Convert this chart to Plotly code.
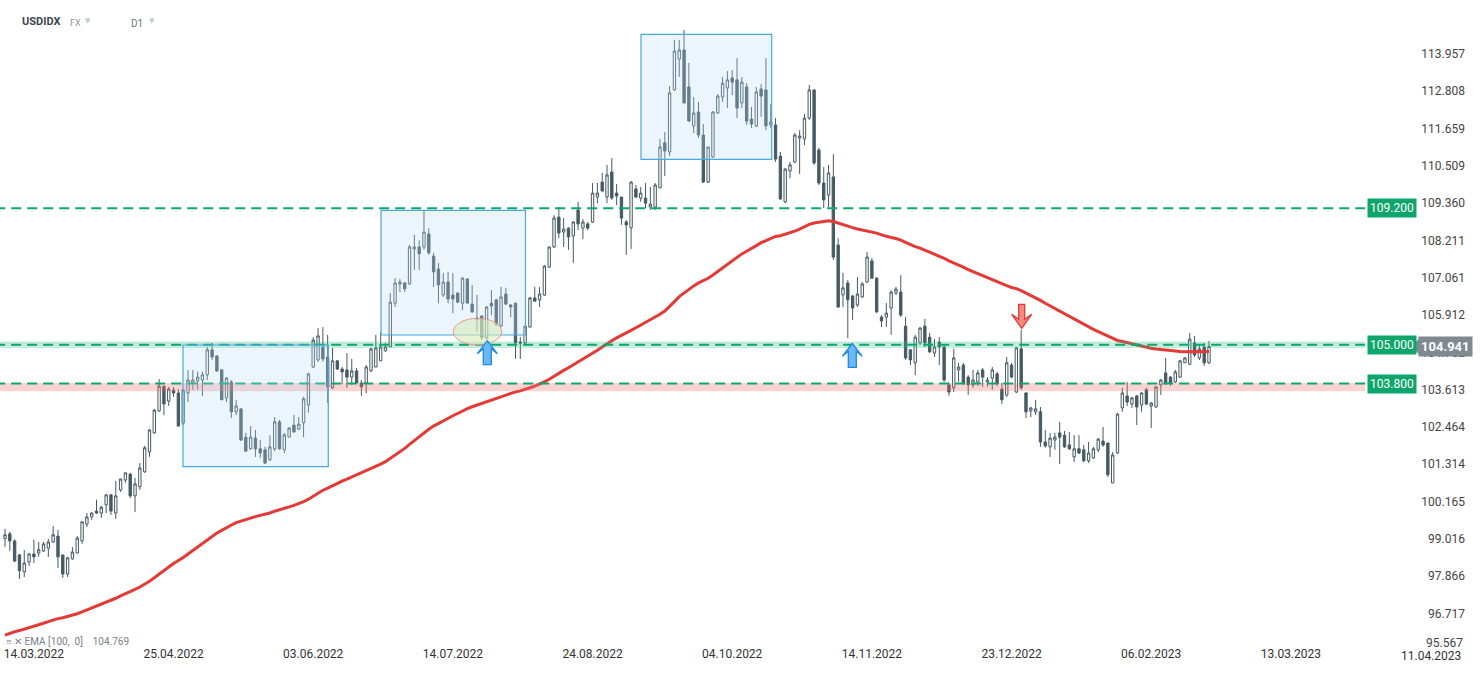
import plotly.graph_objects as go

# ---------------- data ----------------
open_ = [99.02, 99.17, 98.95, 98.52, 98.00, 98.30, 98.55, 98.58, 98.64, 98.73,
         98.92, 99.10, 98.52, 97.93, 98.40, 98.58, 98.95, 99.47, 99.69, 99.87,
         99.81, 100.06, 100.37, 99.81, 100.52, 100.83, 101.01, 100.34, 100.62, 101.08,
         101.69, 102.28, 102.96, 103.72, 103.26, 103.60, 103.51, 102.58, 103.51, 103.82,
         103.88, 103.91, 104.07, 104.84, 104.65, 104.22, 103.36, 103.85, 102.93, 103.02,
         102.15, 101.79, 102.12, 101.79, 101.76, 101.45, 101.79, 102.62, 101.76, 102.15,
         102.52, 102.40, 102.59, 103.14, 104.31, 104.53, 104.93, 104.62, 103.67, 104.50,
         104.25, 104.22, 104.00, 104.19, 103.82, 103.82, 104.19, 104.31, 104.50, 104.81,
         104.93, 106.28, 106.87, 106.90, 106.87, 107.95, 108.01, 108.01, 108.41, 107.73,
         107.33, 106.53, 106.93, 106.53, 106.59, 106.28, 107.02, 106.25, 105.82, 105.88,
         105.20, 106.28, 106.38, 105.57, 106.56, 106.22, 106.28, 105.08, 105.05, 105.54,
         106.44, 106.38, 106.53, 107.39, 108.01, 108.93, 108.47, 108.59, 108.35, 109.15,
         108.59, 108.72, 108.78, 109.55, 110.01, 109.55, 110.32, 109.67, 109.55, 108.78,
         108.60, 109.80, 109.52, 109.52, 109.24, 109.24, 109.83, 111.22, 110.94, 112.85,
         113.80, 114.08, 112.94, 111.74, 112.17, 111.46, 110.01, 110.78, 112.14, 112.63,
         112.91, 113.22, 113.16, 112.45, 112.94, 111.95, 111.74, 112.88, 112.85, 111.77,
         111.77, 110.81, 109.40, 110.35, 110.63, 111.37, 111.34, 111.98, 112.85, 111.00,
         109.98, 109.61, 110.17, 108.07, 106.53, 106.90, 106.50, 106.22, 106.47, 106.93,
         107.58, 107.05, 105.85, 105.85, 106.13, 106.59, 106.62, 105.57, 104.84, 104.44,
         105.05, 105.57, 105.23, 104.74, 105.08, 104.93, 103.76, 103.67, 104.22, 104.37,
         104.00, 103.76, 103.85, 104.22, 103.85, 103.97, 104.10, 103.63, 103.45, 104.37,
         103.54, 104.87, 103.51, 102.96, 102.93, 102.93, 102.00, 101.85, 102.06, 102.28,
         102.21, 101.91, 101.54, 101.79, 101.76, 101.42, 101.51, 101.76, 102.03, 101.97,
         100.74, 101.66, 103.05, 103.42, 103.17, 103.42, 103.14, 103.61, 103.11, 103.08,
         103.76, 104.13, 104.00, 103.85, 104.00, 104.44, 104.40, 105.05, 104.59, 104.93,
         104.44]
high = [99.32, 99.23, 99.00, 98.55, 98.67, 98.58, 98.99, 98.92, 98.92, 99.01,
        99.41, 99.29, 98.52, 98.46, 98.76, 99.10, 99.54, 99.81, 99.84, 100.22,
        100.03, 100.40, 100.40, 100.80, 100.86, 101.05, 101.05, 100.89, 101.35, 101.88,
        102.40, 103.02, 103.94, 103.72, 103.69, 103.69, 103.63, 103.63, 104.22, 104.22,
        104.17, 104.17, 104.93, 105.05, 104.68, 104.25, 104.00, 103.91, 103.30, 103.05,
        102.28, 102.49, 102.37, 102.06, 101.85, 102.21, 102.77, 102.68, 102.28, 102.46,
        102.83, 102.77, 103.39, 104.13, 105.23, 105.51, 105.54, 105.30, 104.90, 104.53,
        104.31, 104.74, 104.56, 104.28, 103.91, 104.37, 104.90, 105.30, 105.39, 105.05,
        106.59, 107.05, 107.02, 106.93, 108.07, 108.38, 108.22, 109.15, 108.59, 107.83,
        107.52, 107.21, 107.24, 107.21, 106.62, 107.08, 107.05, 106.84, 106.53, 105.91,
        106.19, 106.68, 106.41, 106.78, 106.75, 106.25, 106.28, 105.23, 105.60, 106.47,
        106.78, 106.78, 107.45, 108.01, 108.99, 109.24, 108.90, 108.62, 108.81, 109.40,
        108.87, 108.78, 109.98, 109.98, 110.29, 110.54, 110.75, 109.95, 109.55, 108.84,
        110.04, 109.92, 109.86, 109.98, 109.86, 109.98, 111.34, 111.55, 112.97, 114.39,
        114.39, 114.70, 113.68, 112.63, 112.48, 111.80, 111.09, 112.20, 112.72, 113.25,
        113.43, 113.46, 113.83, 113.25, 113.06, 112.32, 112.94, 113.03, 113.83, 112.41,
        111.98, 110.94, 110.44, 110.63, 111.52, 111.61, 112.11, 113.00, 112.85, 111.06,
        110.47, 110.54, 110.87, 108.28, 107.21, 106.99, 106.53, 107.08, 106.93, 107.86,
        107.67, 107.08, 105.91, 106.28, 106.68, 106.78, 107.14, 105.85, 104.87, 105.30,
        105.54, 105.79, 105.36, 105.17, 105.23, 104.99, 103.82, 104.87, 104.44, 104.44,
        104.06, 104.22, 104.22, 104.28, 104.00, 104.31, 104.16, 103.82, 104.62, 104.44,
        104.93, 105.45, 103.54, 103.08, 103.30, 103.08, 102.37, 102.28, 102.28, 102.62,
        102.34, 102.31, 102.21, 102.21, 101.91, 102.00, 101.85, 102.12, 102.46, 101.97,
        101.69, 102.89, 103.67, 103.85, 103.39, 103.45, 103.54, 103.67, 103.23, 103.70,
        103.94, 104.59, 104.03, 104.22, 104.53, 104.62, 105.36, 105.27, 104.99, 105.05,
        105.11]
low = [98.76, 98.65, 98.30, 97.78, 97.84, 98.18, 98.27, 98.46, 98.61, 98.46,
       98.89, 98.12, 97.81, 97.84, 98.37, 98.58, 98.86, 99.38, 99.60, 99.78,
       99.66, 99.81, 99.75, 99.63, 100.46, 100.74, 100.27, 99.84, 100.52, 101.05,
       101.54, 102.25, 102.93, 102.83, 103.11, 103.39, 102.49, 102.52, 103.23, 103.61,
       103.61, 103.42, 103.91, 104.53, 104.16, 103.30, 103.23, 102.74, 102.83, 102.03,
       101.69, 101.76, 101.54, 101.51, 101.32, 101.42, 101.72, 101.76, 101.66, 102.15,
       102.28, 102.37, 102.15, 102.90, 104.28, 104.47, 104.47, 103.20, 103.63, 104.22,
       103.79, 103.67, 103.76, 103.82, 103.42, 103.51, 104.16, 104.31, 104.50, 104.78,
       104.93, 106.16, 106.62, 106.62, 106.84, 107.30, 107.30, 107.92, 107.77, 106.78,
       106.28, 106.47, 106.28, 105.97, 106.28, 106.07, 106.28, 105.97, 105.39, 105.14,
       105.17, 105.91, 105.57, 105.54, 106.22, 105.85, 104.56, 104.56, 104.99, 105.54,
       106.34, 106.16, 106.50, 107.36, 107.98, 108.28, 108.01, 107.92, 107.52, 108.53,
       108.25, 108.53, 108.75, 109.36, 109.70, 109.36, 109.46, 109.30, 108.69, 107.77,
       107.95, 109.52, 109.40, 109.21, 109.15, 109.15, 109.83, 110.20, 110.81, 112.82,
       113.25, 112.42, 111.86, 111.52, 111.37, 109.98, 109.98, 110.75, 112.11, 112.48,
       112.29, 112.69, 111.98, 112.29, 111.77, 111.68, 111.71, 112.02, 111.61, 111.68,
       110.63, 109.46, 109.36, 110.13, 110.60, 110.26, 111.15, 111.92, 110.54, 109.92,
       109.21, 109.24, 107.61, 106.13, 106.16, 105.20, 105.76, 106.16, 106.44, 106.90,
       107.02, 105.97, 105.54, 105.54, 105.30, 106.53, 105.85, 104.53, 104.37, 104.06,
       104.99, 104.93, 104.74, 104.62, 104.37, 103.85, 103.42, 103.54, 103.85, 103.76,
       103.45, 103.67, 103.73, 103.70, 103.70, 103.61, 103.73, 103.17, 103.39, 103.97,
       103.51, 103.61, 102.74, 102.77, 102.83, 101.85, 101.82, 101.54, 101.76, 101.32,
       101.82, 101.76, 101.38, 101.63, 101.38, 101.35, 101.48, 101.69, 101.85, 100.92,
       100.74, 101.63, 102.93, 103.11, 103.05, 102.52, 102.93, 103.14, 102.43, 103.05,
       103.45, 103.76, 103.73, 103.82, 103.97, 104.44, 104.37, 104.62, 104.53, 104.34,
       104.40]
close = [99.14, 98.95, 98.33, 98.03, 98.27, 98.55, 98.46, 98.68, 98.86, 98.92,
         99.14, 98.46, 97.93, 98.43, 98.61, 99.04, 99.54, 99.69, 99.81, 99.81,
         99.99, 100.37, 99.87, 100.34, 100.86, 101.05, 100.34, 100.71, 101.20, 101.82,
         102.37, 102.98, 103.72, 103.17, 103.63, 103.51, 102.49, 103.60, 103.91, 103.91,
         104.00, 104.07, 104.84, 104.62, 104.19, 103.30, 103.97, 102.93, 103.11, 102.06,
         101.72, 102.15, 101.79, 101.66, 101.35, 101.85, 102.62, 101.79, 102.22, 102.43,
         102.31, 102.55, 103.33, 104.10, 105.14, 105.27, 104.56, 103.70, 104.50, 104.25,
         104.16, 104.00, 104.19, 103.82, 103.70, 104.31, 104.87, 104.90, 104.93, 104.93,
         106.31, 106.90, 106.93, 106.72, 108.01, 108.01, 107.80, 108.47, 107.83, 107.24,
         106.84, 106.93, 106.41, 106.41, 106.31, 107.05, 106.28, 106.01, 105.76, 105.23,
         106.16, 106.19, 105.61, 106.47, 106.25, 106.16, 105.05, 105.05, 105.57, 106.44,
         106.34, 106.56, 107.42, 108.01, 108.90, 108.44, 108.56, 108.32, 108.78, 108.72,
         108.78, 108.59, 109.67, 109.67, 109.74, 110.23, 109.52, 109.58, 108.90, 108.69,
         110.01, 109.55, 109.67, 109.36, 109.33, 109.92, 111.09, 110.97, 112.76, 114.05,
         114.08, 112.45, 111.89, 112.14, 111.46, 110.01, 111.09, 112.17, 112.66, 113.06,
         113.16, 113.09, 112.29, 113.09, 111.89, 111.80, 112.79, 112.66, 111.74, 111.86,
         110.72, 109.49, 110.41, 110.54, 111.46, 111.43, 111.98, 112.85, 110.60, 109.98,
         109.46, 110.29, 107.70, 106.16, 106.75, 106.38, 106.13, 106.56, 106.87, 107.70,
         107.05, 106.01, 105.73, 105.97, 106.62, 106.71, 105.91, 104.59, 104.53, 105.23,
         105.51, 105.05, 104.78, 104.93, 104.93, 103.91, 103.54, 104.59, 104.31, 103.82,
         103.76, 103.91, 104.13, 104.00, 103.91, 104.22, 103.79, 103.30, 104.44, 104.00,
         104.90, 103.67, 102.93, 103.05, 103.02, 102.00, 101.88, 102.12, 102.15, 102.15,
         101.85, 101.79, 101.79, 101.66, 101.42, 101.66, 101.79, 102.09, 101.91, 100.99,
         101.60, 102.86, 103.51, 103.23, 103.36, 103.08, 103.51, 103.17, 103.20, 103.70,
         103.91, 103.82, 103.82, 104.16, 104.50, 104.59, 105.17, 104.68, 104.87, 104.44,
         104.94]

EMA_PERIOD = 100
EMA_START = 96.05          # EMA value at the first visible bar
LAST_PRICE = 104.941
EMA_LAST_LABEL = "104.769"
LEVELS = [109.200, 105.000, 103.800]
level_labels = ["109.200", "105.000", "103.800"]

FIRST_TICK_BAR = 6
TICK_STEP = 29
x_tick_labels = ["14.03.2022", "25.04.2022", "03.06.2022", "14.07.2022", "24.08.2022",
                 "04.10.2022", "14.11.2022", "23.12.2022", "06.02.2023", "13.03.2023",
                 "11.04.2023"]
y_tick_values = [113.957, 112.808, 111.659, 110.509, 109.360, 108.211, 107.061, 105.912,
                 104.762, 103.613, 102.464, 101.314, 100.165, 99.016, 97.866, 96.717]
y_bottom_label = 95.567

# ---------------- derived ----------------
n = len(close)
xs = list(range(n))
alpha = 2.0 / (EMA_PERIOD + 1)
ema = [EMA_START]
for c in close[1:]:
    ema.append(ema[-1] + alpha * (c - ema[-1]))

W, H = 1482, 674
M_L, M_R, M_T, M_B = 0, 14, 0, 29
PLOT_W = W - M_L - M_R
PLOT_H = H - M_T - M_B
PX_PER_BAR = 4.816
X0_PX = 5.0
X_MIN = -X0_PX / PX_PER_BAR
X_MAX = (PLOT_W - X0_PX) / PX_PER_BAR
Y_MIN, Y_MAX = 95.744, 115.621
DX = 1.0 / PX_PER_BAR
DY = (Y_MAX - Y_MIN) / PLOT_H


def px2x(px):
    return (px - X0_PX) / PX_PER_BAR


def py2y(py):
    return Y_MAX - py * DY


def pxp(px):
    return px / PLOT_W


def pyp(py):
    return 1 - py / PLOT_H


DARK = "#455a64"
GREEN = "#0fa66b"

fig = go.Figure()
fig.add_trace(go.Candlestick(
    x=xs, open=open_, high=high, low=low, close=close,
    increasing=dict(line=dict(color=DARK, width=1), fillcolor="white"),
    decreasing=dict(line=dict(color=DARK, width=1), fillcolor=DARK),
    whiskerwidth=0, hoverinfo="skip", showlegend=False,
))
fig.add_trace(go.Scatter(
    x=xs, y=ema, mode="lines", line=dict(color="#e53935", width=3),
    hoverinfo="skip", showlegend=False,
))

shapes = []
LINE_END = px2x(1365)
# bands
shapes.append(dict(type="rect", xref="x", yref="y", x0=X_MIN - 1, x1=LINE_END,
                   y0=104.90, y1=105.10, fillcolor="rgba(40,190,130,0.28)",
                   line=dict(width=0), layer="above"))
shapes.append(dict(type="rect", xref="x", yref="y", x0=X_MIN - 1, x1=LINE_END,
                   y0=103.56, y1=103.82, fillcolor="rgba(240,110,110,0.30)",
                   line=dict(width=0), layer="above"))
for lv in LEVELS:
    shapes.append(dict(type="line", xref="x", yref="y", x0=X_MIN - 1, x1=LINE_END,
                       y0=lv, y1=lv, line=dict(color=GREEN, width=2, dash="10px,6px"),
                       layer="above"))
# boxes
for (a, b, c, d) in [(183, 328.3, 345, 466.7), (381, 525.5, 210.3, 335), (641, 771.7, 34.3, 159.3)]:
    shapes.append(dict(type="rect", xref="x", yref="y", x0=px2x(a), x1=px2x(b),
                       y0=py2y(d), y1=py2y(c), fillcolor="rgba(185,220,245,0.28)",
                       line=dict(color="#4aa8e0", width=1.2), layer="above"))
# ellipse
shapes.append(dict(type="circle", xref="x", yref="y", x0=px2x(453.3), x1=px2x(501.7),
                   y0=py2y(345), y1=py2y(318.3), fillcolor="rgba(215,235,185,0.6)",
                   line=dict(color="rgba(232,140,140,0.9)", width=1), layer="above"))


def arrow(cx_px, tip_py, up, half_head, half_shaft, length, head_len, notch):
    s = 1 if up else -1
    pts = [(0, 0), (half_head, head_len), (half_shaft, notch), (half_shaft, length),
           (-half_shaft, length), (-half_shaft, notch), (-half_head, head_len)]
    path = ""
    for i, (ox, oy) in enumerate(pts):
        x = px2x(cx_px + ox)
        y = py2y(tip_py + s * oy)
        path += ("M" if i == 0 else "L") + f"{x:.4f},{y:.4f} "
    return path + "Z"


for cx, tip in [(487.3, 340.7), (852.3, 343.3)]:
    shapes.append(dict(type="path", xref="x", yref="y",
                       path=arrow(cx, tip, True, 10, 4, 24, 13, 8),
                       fillcolor="#6cb8f4", line=dict(color="#1e88e5", width=1.3),
                       layer="above"))
shapes.append(dict(type="path", xref="x", yref="y",
                   path=arrow(1021.7, 328.3, False, 10, 3, 24, 14, 9),
                   fillcolor="#f08a80", line=dict(color="#e53935", width=1.3),
                   layer="above"))
# last price label notch
shapes.append(dict(type="path", xref="x", yref="y",
                   path=f"M{px2x(1412):.4f},{LAST_PRICE:.4f} L{px2x(1419):.4f},{LAST_PRICE + 8 * DY:.4f} "
                        f"L{px2x(1419):.4f},{LAST_PRICE - 8 * DY:.4f} Z",
                   fillcolor="#80898f", line=dict(width=0), layer="above"))

annotations = []
for lv, txt in zip(LEVELS, level_labels):
    annotations.append(dict(x=px2x(1367), y=lv, xref="x", yref="y", text=txt,
                            showarrow=False, xanchor="left", yanchor="middle",
                            bgcolor=GREEN, borderpad=2,
                            font=dict(family="Roboto", size=12, color="white")))
annotations.append(dict(x=px2x(1418), y=LAST_PRICE, xref="x", yref="y",
                        text=f"<b>{LAST_PRICE:.3f}</b>", showarrow=False,
                        xanchor="left", yanchor="middle", bgcolor="#80898f", borderpad=2,
                        font=dict(family="Roboto", size=13, color="white")))
annotations.append(dict(x=1.0, y=pyp(643), xref="paper", yref="paper",
                        text=f"{y_bottom_label:.3f}", showarrow=False, xanchor="right",
                        yanchor="middle", xshift=-3,
                        font=dict(family="Roboto", size=12, color="#444")))

# tick positions along the bar index axis
tick_pos = [FIRST_TICK_BAR + TICK_STEP * k for k in range(len(x_tick_labels))]
# the last date label sits at the right edge; plotly drops it as a tick, so draw it as text
annotations.append(dict(x=tick_pos[-1], y=pyp(656), xref="x", yref="paper",
                        text=x_tick_labels[-1], showarrow=False, xanchor="center",
                        yanchor="middle",
                        font=dict(family="Roboto", size=12, color="#333")))

annotations += [
    dict(x=pxp(20), y=pyp(22), xref="paper", yref="paper", text="<b>USDIDX</b>",
         showarrow=False, xanchor="left", yanchor="middle",
         font=dict(family="Roboto", size=11, color="#3c4550")),
    dict(x=pxp(68), y=pyp(23), xref="paper", yref="paper", text="FX",
         showarrow=False, xanchor="left", yanchor="middle",
         font=dict(family="Roboto", size=9, color="#8a96a3")),
    dict(x=pxp(83), y=pyp(21), xref="paper", yref="paper", text="▼",
         showarrow=False, xanchor="left", yanchor="middle",
         font=dict(family="DejaVu Sans", size=7, color="#c4c8cc")),
    dict(x=pxp(129), y=pyp(23), xref="paper", yref="paper", text="D1",
         showarrow=False, xanchor="left", yanchor="middle",
         font=dict(family="Roboto", size=10, color="#6f7680")),
    dict(x=pxp(147), y=pyp(21), xref="paper", yref="paper", text="▼",
         showarrow=False, xanchor="left", yanchor="middle",
         font=dict(family="DejaVu Sans", size=7, color="#c4c8cc")),
    dict(x=pxp(4), y=pyp(641), xref="paper", yref="paper",
         text=f"≡ ✕ EMA [100,  0]    {EMA_LAST_LABEL}",
         showarrow=False, xanchor="left", yanchor="middle",
         font=dict(family="Roboto", size=10, color="#7a8088")),
]

fig.update_layout(
    width=W, height=H,
    margin=dict(l=M_L, r=M_R, t=M_T, b=M_B, pad=0),
    paper_bgcolor="white", plot_bgcolor="white",
    shapes=shapes, annotations=annotations,
    hovermode=False, showlegend=False,
    xaxis=dict(range=[X_MIN, X_MAX], rangeslider=dict(visible=False),
               showgrid=False, zeroline=False, showline=False, ticks="",
               tickmode="array", ticklabeloverflow="allow",
               tickvals=tick_pos[:-1], ticktext=x_tick_labels[:-1],
               tickfont=dict(family="Roboto", size=12, color="#333")),
    yaxis=dict(range=[Y_MIN, Y_MAX], side="right", ticklabelposition="inside",
               showgrid=False, zeroline=False, showline=False, ticks="",
               tickmode="array", tickvals=y_tick_values,
               ticktext=[f"{v:.3f}" for v in y_tick_values],
               tickfont=dict(family="Roboto", size=12, color="#444")),
    font=dict(family="Roboto"),
)

fig.write_html("out.html", config={"displayModeBar": False},
               post_script="document.body.style.margin='0px';document.body.style.overflow='hidden';")
